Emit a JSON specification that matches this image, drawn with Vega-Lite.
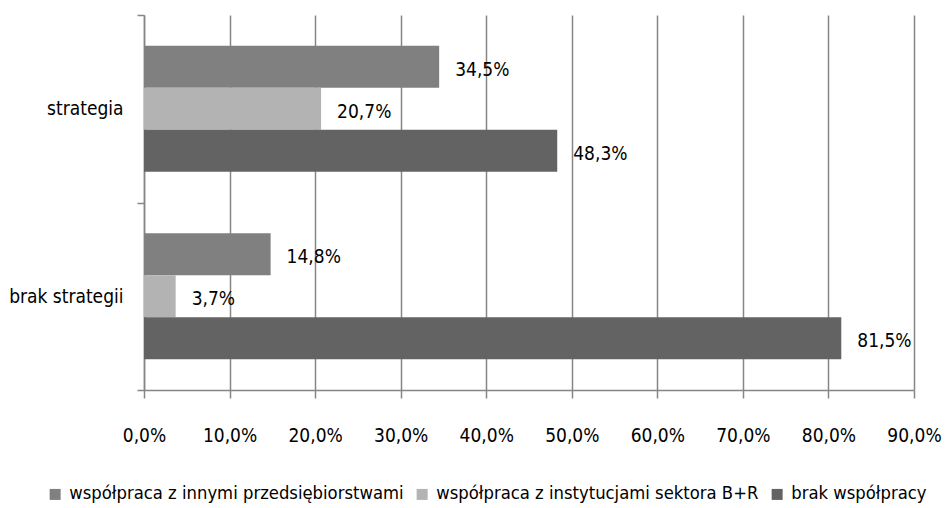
{
  "$schema": "https://vega.github.io/schema/vega-lite/v6.json",
  "width": 770,
  "height": 375,
  "autosize": "none",
  "padding": {"left": 144, "top": 15, "right": 32, "bottom": 118},
  "background": "white",
  "config": {
    "font": "DejaVu Sans Condensed, sans-serif",
    "view": {"stroke": null}
  },
  "data": {
    "values": [
      {"grupa": "strategia", "seria": "współpraca z innymi przedsiębiorstwami", "wartosc": 34.5},
      {"grupa": "strategia", "seria": "współpraca z instytucjami sektora B+R", "wartosc": 20.7},
      {"grupa": "strategia", "seria": "brak współpracy", "wartosc": 48.3},
      {"grupa": "brak strategii", "seria": "współpraca z innymi przedsiębiorstwami", "wartosc": 14.8},
      {"grupa": "brak strategii", "seria": "współpraca z instytucjami sektora B+R", "wartosc": 3.7},
      {"grupa": "brak strategii", "seria": "brak współpracy", "wartosc": 81.5}
    ]
  },
  "encoding": {
    "y": {
      "field": "grupa",
      "type": "nominal",
      "sort": ["strategia", "brak strategii"],
      "scale": {"paddingInner": 0, "paddingOuter": 0},
      "axis": {
        "title": null,
        "tickBand": "extent",
        "tickSize": 7,
        "tickColor": "#868686",
        "tickWidth": 1.5,
        "domainColor": "#868686",
        "domainWidth": 1.5,
        "labelFontSize": 19,
        "labelColor": "#000000",
        "labelPadding": 14,
        "labelFont": "DejaVu Sans Condensed, sans-serif"
      }
    },
    "yOffset": {
      "field": "seria",
      "type": "nominal",
      "sort": ["współpraca z innymi przedsiębiorstwami", "współpraca z instytucjami sektora B+R", "brak współpracy"],
      "scale": {"paddingInner": 0, "paddingOuter": 0.73}
    },
    "x": {
      "field": "wartosc",
      "type": "quantitative",
      "scale": {"domain": [0, 90], "nice": false, "zero": true},
      "axis": {
        "title": null,
        "values": [0, 10, 20, 30, 40, 50, 60, 70, 80, 90],
        "labelExpr": "replace(format(datum.value, '.1f'), '.', ',') + '%'",
        "labelFlush": false,
        "labelOverlap": false,
        "grid": true,
        "gridColor": "#868686",
        "gridWidth": 1.5,
        "tickSize": 8,
        "tickColor": "#868686",
        "tickWidth": 1.5,
        "domainColor": "#868686",
        "domainWidth": 1.5,
        "labelFontSize": 19,
        "labelColor": "#000000",
        "labelPadding": 28,
        "labelFont": "DejaVu Sans Condensed, sans-serif"
      }
    }
  },
  "layer": [
    {
      "mark": {"type": "bar"},
      "encoding": {
        "color": {
          "field": "seria",
          "type": "nominal",
          "scale": {
            "domain": ["współpraca z innymi przedsiębiorstwami", "współpraca z instytucjami sektora B+R", "brak współpracy"],
            "range": ["#808080", "#b3b3b3", "#636363"]
          },
          "legend": {
            "title": null,
            "orient": "none",
            "legendX": -98,
            "legendY": 470,
            "direction": "horizontal",
            "symbolType": "square",
            "symbolSize": 121,
            "symbolStrokeWidth": 0,
            "labelFontSize": 18.3,
            "labelColor": "#000000",
            "labelOffset": 5,
            "columnPadding": 9,
            "labelLimit": 500,
            "labelFont": "DejaVu Sans Condensed, sans-serif"
          }
        }
      }
    },
    {
      "mark": {"type": "text", "align": "left", "baseline": "middle", "dx": 16, "dy": 3, "fontSize": 19, "color": "#000000", "font": "DejaVu Sans Condensed, sans-serif"},
      "encoding": {
        "text": {"field": "etykieta"}
      },
      "transform": [
        {"calculate": "replace(format(datum.wartosc, '.1f'), '.', ',') + '%'", "as": "etykieta"}
      ]
    }
  ]
}
